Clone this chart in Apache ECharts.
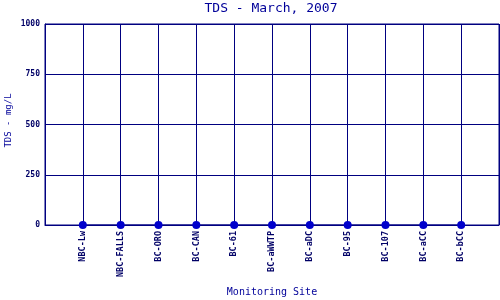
<!DOCTYPE html>
<html><head><meta charset="utf-8">
<script src="https://cdn.jsdelivr.net/npm/echarts@6/dist/echarts.min.js"></script>
<style>html,body{margin:0;padding:0;background:#fff}#c{width:500px;height:300px}</style>
</head><body><div id="c"></div>
<script>
const categories = ['NBC-Lw','NBC-FALLS','BC-ORO','BC-CAN','BC-61','BC-aWWTP','BC-aDC','BC-95','BC-107','BC-aCC','BC-bCC'];
const tdsValues = [0,0,0,0,0,0,0,0,0,0,0];
const yTicks = [0,250,500,750,1000];

const cats = [''].concat(categories, ['']);
const vals = [null].concat(tdsValues, [null]);
const navy = '#000080';
const font = 'DejaVu Sans Mono';
const chart = echarts.init(document.getElementById('c'), null, {renderer:'canvas'});
chart.setOption({
  animation:false,
  title:{text:'TDS - March, 2007', left:266, textAlign:'center', top:-3,
    textStyle:{fontFamily:font, fontSize:13, fontWeight:'normal', color:'#000099'}},
  grid:{left:45, right:1, top:24, bottom:75, show:true, borderColor:navy, borderWidth:1,
    containLabel:false, outerBoundsMode:'none'},
  xAxis:{type:'category', data:cats, boundaryGap:false,
    name:'Monitoring Site', nameLocation:'middle', nameGap:62, nameMoveOverlap:false,
    nameTextStyle:{fontFamily:font, fontSize:10, color:'#000099'},
    axisLine:{lineStyle:{color:navy}}, axisTick:{show:false},
    axisLabel:{rotate:90, interval:0, margin:6, fontFamily:font, fontSize:8.5, fontWeight:'bold', color:'#000066'},
    splitLine:{show:true, interval:0, lineStyle:{color:navy, width:1}}},
  yAxis:{type:'value', min:0, max:1000, interval:250,
    name:'TDS - mg/L', nameLocation:'middle', nameGap:32, nameMoveOverlap:false,
    nameTextStyle:{fontFamily:font, fontSize:9, color:'#000099', padding:[0,0,0,8]},
    axisLine:{show:true, lineStyle:{color:navy}}, axisTick:{show:false},
    axisLabel:{margin:5, fontFamily:font, fontSize:8, fontWeight:'bold', color:'#000066',
      formatter:v=>yTicks.includes(v)?String(v):''},
    splitLine:{show:true, lineStyle:{color:navy, width:1}}},
  series:[{type:'line', data:vals, symbol:'circle', symbolSize:8,
    itemStyle:{color:'#0000cc'}, lineStyle:{color:navy, width:1}}]
});
</script></body></html>
